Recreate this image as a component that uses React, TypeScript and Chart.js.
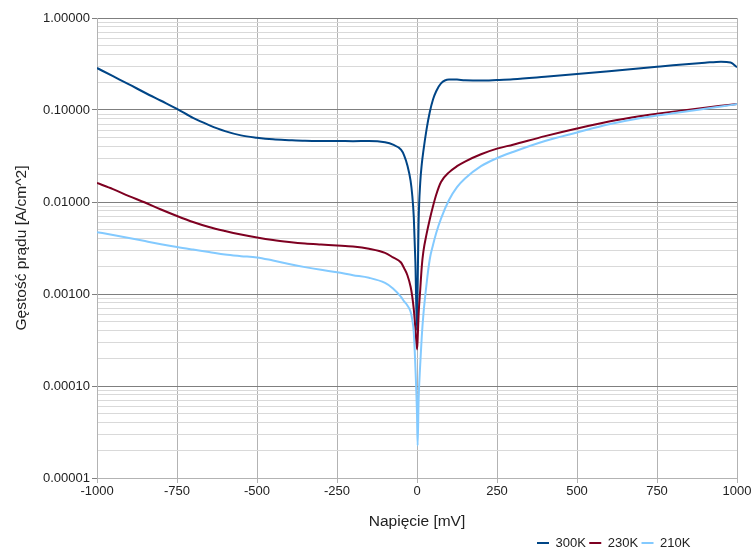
import React, { useEffect, useRef } from "react";
import { Chart, registerables } from "chart.js";

Chart.register(...registerables);

// Bias voltage [mV]
const voltages = [
  -1000, -950, -900, -850, -800, -750, -700, -650, -600, -550, -500, -450, -400, -350, -300, -250, -200, -150, -100, -75, -50, -40, -30, -20, -15, -10, -5,
  0, 2, 5, 10, 15, 20, 30, 40, 50, 60, 75, 100, 125, 150, 200, 250, 300, 400, 500, 600, 700, 750, 800, 900, 950, 980, 1000,
];

// Current density [A/cm^2]
const j300K = [
  0.286, 0.233, 0.19, 0.154, 0.126, 0.103, 0.082, 0.0686, 0.059, 0.053, 0.05, 0.048, 0.047, 0.0462, 0.046, 0.046, 0.0458, 0.046, 0.0445, 0.042, 0.037, 0.032, 0.025, 0.017, 0.012, 0.0068, 0.0022,
  0.0004, 0.0012, 0.006, 0.016, 0.026, 0.036, 0.062, 0.095, 0.13, 0.16, 0.195, 0.215, 0.214, 0.211, 0.209, 0.212, 0.216, 0.23, 0.246, 0.264, 0.284, 0.295, 0.306, 0.326, 0.335, 0.328, 0.292,
];

const j230K = [
  0.0161, 0.0138, 0.0116, 0.00988, 0.00829, 0.00705, 0.00607, 0.00535, 0.00484, 0.00443, 0.00411, 0.00386, 0.00368, 0.00354, 0.00345, 0.00337, 0.00328, 0.0031, 0.0028, 0.0025, 0.0022, 0.0019, 0.0016, 0.0012, 0.00095, 0.00068, 0.00042,
  0.00025, 0.00032, 0.0006, 0.0011, 0.002, 0.0029, 0.0045, 0.0065, 0.009, 0.012, 0.0165, 0.021, 0.0245, 0.0275, 0.033, 0.038, 0.042, 0.052, 0.063, 0.075, 0.086, 0.091, 0.096, 0.106, 0.111, 0.114, 0.116,
];

const j210K = [
  0.0047, 0.00438, 0.00407, 0.00376, 0.00348, 0.00324, 0.00304, 0.00286, 0.00268, 0.00258, 0.0025, 0.00231, 0.00212, 0.00196, 0.00183, 0.00172, 0.0016, 0.0015, 0.00132, 0.00115, 0.00093, 0.00083, 0.00075, 0.00064, 0.00053, 0.00038, 0.00016,
  0.00005, 0.0000225, 0.00007, 0.00017, 0.00035, 0.0006, 0.0013, 0.0024, 0.0034, 0.0046, 0.0066, 0.0105, 0.0145, 0.018, 0.0245, 0.03, 0.035, 0.046, 0.057, 0.07, 0.082, 0.087, 0.092, 0.103, 0.109, 0.113, 0.116,
];

const seriesLabels = ["300K", "230K", "210K"];
const seriesColors = ["#004586", "#7e0021", "#83caff"];

const xTicks = [-1000, -750, -500, -250, 0, 250, 500, 750, 1000];
const yDecadeExponents = [-5, -4, -3, -2, -1, 0];

const xTitle = "Napięcie [mV]";
const yTitle = "Gęstość prądu [A/cm^2]";

const FONT = "Arial, 'Liberation Sans', sans-serif";

function isDecade(v: number) {
  const l = Math.log10(v);
  return Math.abs(l - Math.round(l)) < 1e-9;
}

function buildLogTicks() {
  const ticks: { value: number }[] = [];
  for (const e of yDecadeExponents) {
    if (e === 0) {
      ticks.push({ value: 1 });
      break;
    }
    for (let m = 1; m <= 9; m++) {
      ticks.push({ value: Number((m * Math.pow(10, e)).toPrecision(12)) });
    }
  }
  return ticks;
}

export default function App() {
  const ref = useRef<HTMLCanvasElement | null>(null);

  useEffect(() => {
    document.body.style.margin = "0";
    if (!ref.current) return;

    const toPoints = (arr: number[]) => voltages.map((v, i) => ({ x: v, y: arr[i] }));
    const allSeries = [j300K, j230K, j210K];

    const legendShift = {
      id: "legendShift",
      afterLayout(chart: any) {
        const lg = chart.legend;
        if (!lg || !lg.lineWidths) return;
        const targetRight = 537 + lg.lineWidths[0];
        const dx = targetRight - lg.right;
        lg.left += dx;
        lg.right += dx;
        lg.top += 8.5;
        lg.bottom += 8.5;
      },
    };

    const chart = new Chart(ref.current, {
      type: "line",
      data: {
        datasets: allSeries.map((arr, i) => ({
          label: seriesLabels[i],
          data: toPoints(arr),
          borderColor: seriesColors[i],
          backgroundColor: seriesColors[i],
          borderWidth: 2,
          pointRadius: 0,
          fill: false,
          cubicInterpolationMode: "monotone" as const,
          order: 3 - i,
        })),
      },
      options: {
        animation: false,
        responsive: true,
        maintainAspectRatio: false,
        layout: { padding: { top: 18, right: 16, left: 0, bottom: 0 } },
        plugins: {
          tooltip: { enabled: false },
          legend: {
            position: "bottom",
            align: "end",
            labels: {
              usePointStyle: true,
              pointStyle: "line",
              pointStyleWidth: 12,
              padding: 3.4,
              color: "#222",
              font: { family: FONT, size: 13 },
              sort: (a: any, b: any) => a.datasetIndex - b.datasetIndex,
            },
          },
        },
        scales: {
          x: {
            type: "linear",
            min: -1000,
            max: 1000,
            afterBuildTicks: (scale: any) => {
              scale.ticks = xTicks.map((v) => ({ value: v }));
            },
            afterFit: (scale: any) => {
              scale.height = 46.6;
            },
            ticks: {
              autoSkip: false,
              maxRotation: 0,
              padding: 1,
              color: "#222",
              font: { family: FONT, size: 13 },
              callback: (v: any) => String(v),
            },
            grid: {
              color: "#b3b3b3",
              tickColor: "#b3b3b3",
              tickLength: 5,
              lineWidth: 1,
            },
            border: { color: "#b3b3b3", width: 1 },
            title: {
              display: true,
              text: xTitle,
              color: "#222",
              font: { family: FONT, size: 15.5, weight: "normal" },
              padding: { top: 0, bottom: -6 },
            },
          },
          y: {
            type: "logarithmic",
            min: 0.00001,
            max: 1,
            afterBuildTicks: (scale: any) => {
              scale.ticks = buildLogTicks();
            },
            afterFit: (scale: any) => {
              scale.width = 97;
            },
            ticks: {
              autoSkip: false,
              padding: 2,
              color: "#222",
              font: { family: FONT, size: 13 },
              callback: (v: any) => (isDecade(Number(v)) ? Number(v).toFixed(5) : ""),
            },
            grid: {
              color: (ctx: any) => (ctx.tick && isDecade(ctx.tick.value) ? "#7f7f7f" : "#d9d9d9"),
              tickColor: (ctx: any) => (ctx.tick && isDecade(ctx.tick.value) ? "#7f7f7f" : "rgba(0,0,0,0)"),
              tickLength: 5,
              lineWidth: 1,
            },
            border: { color: "#b3b3b3", width: 1 },
            title: {
              display: true,
              text: yTitle,
              color: "#222",
              font: { family: FONT, size: 15.5, weight: "normal" },
              padding: { top: 12, bottom: 0 },
            },
          },
        },
      },
      plugins: [legendShift],
    } as any);

    return () => chart.destroy();
  }, []);

  return (
    <div style={{ width: 753, height: 551, position: "relative" }}>
      <canvas ref={ref} />
    </div>
  );
}
